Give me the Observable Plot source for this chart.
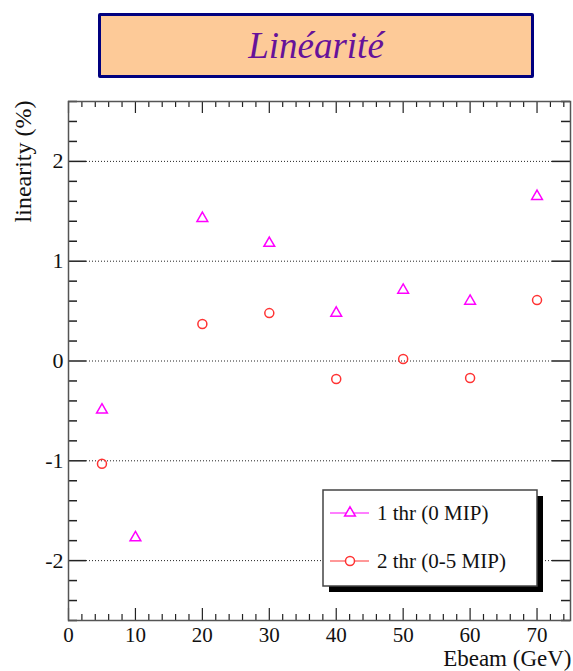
<!DOCTYPE html>
<html><head><meta charset="utf-8">
<script src="https://cdn.jsdelivr.net/npm/d3@7"></script>
<script src="https://cdn.jsdelivr.net/npm/@observablehq/plot@0.6"></script>
<style>
body{margin:0;background:#fff;}
#wrap{width:573px;}
#head{height:88px;position:relative;}
#title{position:absolute;left:98px;top:13px;width:430px;height:59px;border:3px solid #00007f;border-radius:2px;background:#fdca98;font-family:"Liberation Serif",serif;font-style:italic;font-size:37px;color:#66129a;text-align:center;line-height:59px;}
#chart svg text{font-family:"Liberation Serif",serif;}
</style></head>
<body><div id="wrap"><div id="head"><div id="title">Linéarité</div></div><div id="chart"></div></div>
<script>
const titleText = "Linéarité";
const xLabel = "Ebeam (GeV)";
const yLabel = "linearity (%)";
const seriesNames = ["1 thr (0 MIP)", "2 thr (0-5 MIP)"];
const seriesColors = ["#ff00ff", "#ff3333"];

const energies1 = [5, 10, 20, 30, 40, 50, 60, 70];
const thr1 = [-0.49, -1.77, 1.43, 1.18, 0.48, 0.71, 0.60, 1.65];
const energies2 = [5, 20, 30, 40, 50, 60, 70];
const thr2 = [-1.03, 0.37, 0.48, -0.18, 0.02, -0.17, 0.61];

const xTicks = [0, 10, 20, 30, 40, 50, 60, 70];
const yTicks = [-2, -1, 0, 1, 2];
const xMinor = d3.range(0, 76, 2).filter(v => v % 10 !== 0);
const yMinor = d3.range(-13, 14).filter(i => i % 5 !== 0).map(i => i / 5);

const s1 = energies1.map((e, i) => ({x: e, y: thr1[i]}));
const s2 = energies2.map((e, i) => ({x: e, y: thr2[i]}));

const FF = "'Liberation Serif', serif";
const W = 573, H = 583;
const mL = 68, mR = 3, mT = 13, mB = 51;
const pw = W - mL - mR, ph = H - mT - mB;

const plot = Plot.plot({
  width: W, height: H,
  marginLeft: mL, marginRight: mR, marginTop: mT, marginBottom: mB,
  style: {fontFamily: FF, background: "#fff", overflow: "visible"},
  x: {domain: [0, 75]},
  y: {domain: [-2.6, 2.6]},
  marks: [
    Plot.ruleY(yTicks, {stroke: "#222", strokeDasharray: "1,2", insetLeft: 18, insetRight: 18}),
    Plot.tickX(xTicks, {x: d => d, insetTop: ph - 12, stroke: "#222", strokeWidth: 1.2}),
    Plot.tickX(xTicks, {x: d => d, insetBottom: ph - 12, stroke: "#222", strokeWidth: 1.2}),
    Plot.tickX(xMinor, {x: d => d, insetTop: ph - 6, stroke: "#222", strokeWidth: 1.2}),
    Plot.tickX(xMinor, {x: d => d, insetBottom: ph - 6, stroke: "#222", strokeWidth: 1.2}),
    Plot.tickY(yTicks, {y: d => d, insetRight: pw - 18, stroke: "#222", strokeWidth: 1.5}),
    Plot.tickY(yTicks, {y: d => d, insetLeft: pw - 18, stroke: "#222", strokeWidth: 1.5}),
    Plot.tickY(yMinor, {y: d => d, insetRight: pw - 9, stroke: "#222", strokeWidth: 1.5}),
    Plot.tickY(yMinor, {y: d => d, insetLeft: pw - 9, stroke: "#222", strokeWidth: 1.5}),
    Plot.frame({stroke: "#555", strokeWidth: 1.5}),
    Plot.axisX({ticks: xTicks, tickSize: 0, tickPadding: 7, fontSize: 21, fontFamily: FF, label: null, tickFormat: d => String(d), fill: "#111"}),
    Plot.axisY({ticks: yTicks, tickSize: 0, tickPadding: 5, fontSize: 22, fontFamily: FF, label: null, tickFormat: d => String(d), fill: "#111"}),
    Plot.text([xLabel], {text: d => d, frameAnchor: "bottom-right", textAnchor: "end", dy: 45, dx: 1, fontSize: 23, fontFamily: FF, fill: "#111"}),
    Plot.text([yLabel], {text: d => d, frameAnchor: "top-left", textAnchor: "end", rotate: -90, dx: -55, dy: -1, fontSize: 24, fontFamily: FF, fill: "#111"}),
    Plot.dot(s1, {x: "x", y: "y", symbol: "triangle", r: 4, stroke: seriesColors[0], strokeWidth: 1.5, fill: "none"}),
    Plot.dot(s2, {x: "x", y: "y", symbol: "circle", r: 4.5, stroke: seriesColors[1], strokeWidth: 1.5, fill: "none"})
  ]
});

const svg = d3.select(plot);
const lg = svg.append("g").attr("text-anchor", "start");
const lx = 323, ly = 490 - 88, lw = 214, lh = 96;
lg.append("rect").attr("x", lx + 6).attr("y", ly + 6).attr("width", lw).attr("height", lh).attr("fill", "#000");
lg.append("rect").attr("x", lx).attr("y", ly).attr("width", lw).attr("height", lh).attr("fill", "#fff").attr("stroke", "#444").attr("stroke-width", 1.5);
const sym = [d3.symbol(d3.symbolTriangle, 50), d3.symbol(d3.symbolCircle, Math.PI * 4.5 * 4.5)];
seriesNames.forEach((name, i) => {
  const cy = ly + 23 + i * 48;
  lg.append("line").attr("x1", lx + 7).attr("x2", lx + 46).attr("y1", cy).attr("y2", cy).attr("stroke", seriesColors[i]).attr("stroke-width", 1.2);
  lg.append("path").attr("d", sym[i]()).attr("transform", `translate(${lx + 27},${cy})`).attr("fill", "#fff").attr("stroke", seriesColors[i]).attr("stroke-width", 1.5);
  lg.append("text").attr("x", lx + 54).attr("y", cy).attr("dy", "0.35em").attr("text-anchor", "start").attr("font-size", 21).attr("font-family", FF).attr("fill", "#111").text(name);
});

document.getElementById("chart").appendChild(plot);
</script>
</body></html>
